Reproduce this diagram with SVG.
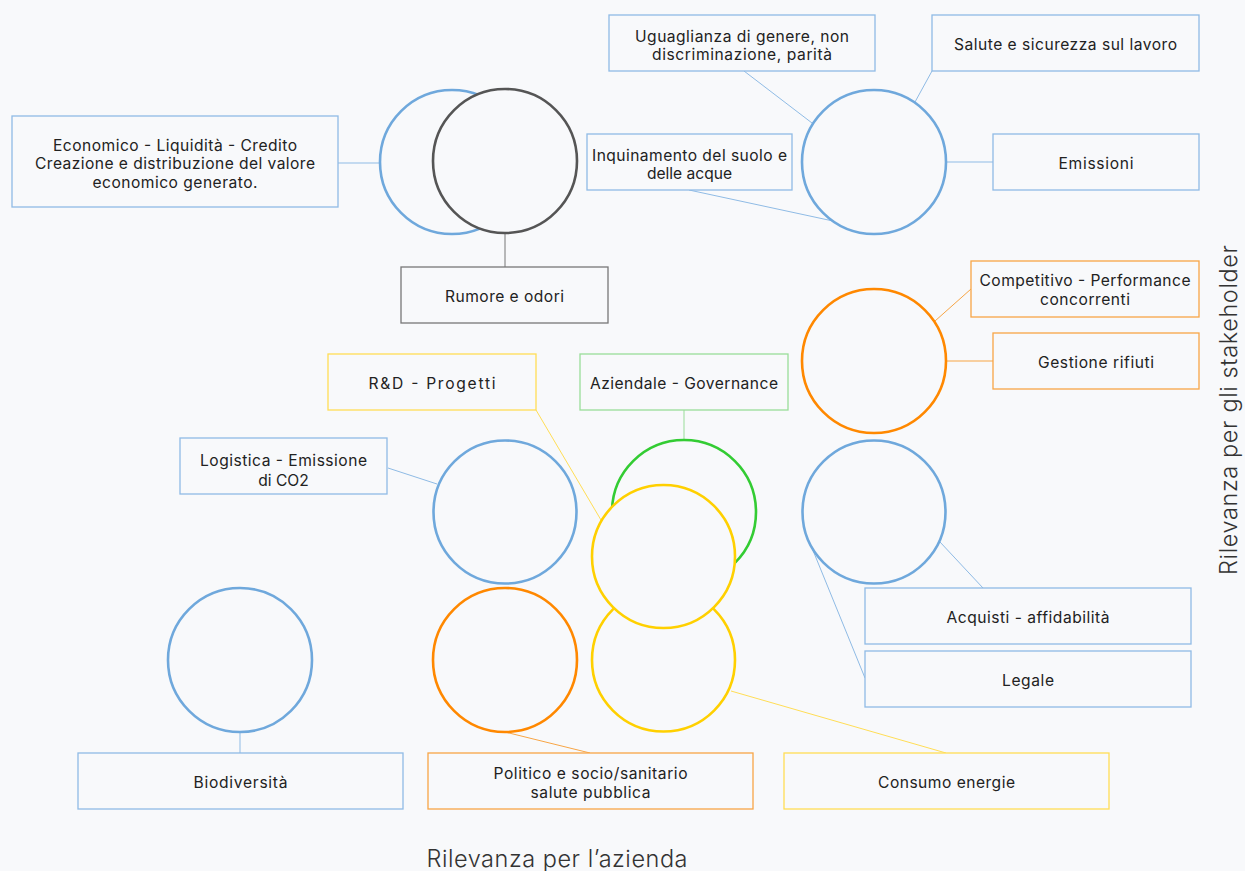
<svg xmlns="http://www.w3.org/2000/svg" width="1245" height="871" viewBox="0 0 1245 871">
<style>
text{font-family:Inter,"Liberation Sans",sans-serif;font-size:15.6px;fill:#222;text-anchor:middle}
.ax{font-size:23.5px;fill:#333;font-weight:300}
rect{fill:#f8f9fb;stroke-width:1.3}
circle{fill:#f8f9fb;stroke-width:2.6}
.bB{stroke:#8fbbe5}.cB{stroke:#6fa8dc}
.bO{stroke:#f7a545}.cO{stroke:#ff8800}
.bY{stroke:#ffdd55}.cY{stroke:#ffd000}
.bG{stroke:#99dd99}.cG{stroke:#33cc33}
.bK{stroke:#777}.cK{stroke:#555}
line{stroke-width:1}
</style>
<rect x="0" y="0" width="1245" height="871" style="fill:#f8f9fb;stroke:none"/>
<g id="connectors">
<line x1="338" y1="163" x2="381" y2="163" class="bB"/>
<line x1="505" y1="233" x2="505" y2="267" class="bK"/>
<line x1="744" y1="71" x2="812" y2="123" class="bB"/>
<line x1="932" y1="71" x2="915" y2="102" class="bB"/>
<line x1="689" y1="190" x2="833" y2="221" class="bB"/>
<line x1="946" y1="162" x2="993" y2="162" class="bB"/>
<line x1="971" y1="289" x2="935" y2="321" class="bO"/>
<line x1="946" y1="361" x2="993" y2="361" class="bO"/>
<line x1="940" y1="542" x2="983" y2="588" class="bB"/>
<line x1="812" y1="548" x2="865" y2="678" class="bB"/>
<line x1="536" y1="410" x2="601" y2="520" class="bY"/>
<line x1="684" y1="410" x2="684" y2="440" class="bG"/>
<line x1="388" y1="468" x2="437" y2="484" class="bB"/>
<line x1="240" y1="732" x2="240" y2="753" class="bB"/>
<line x1="505" y1="732" x2="590" y2="753" class="bO"/>
<line x1="731" y1="691" x2="946" y2="753" class="bY"/>
</g>
<g id="c-eco"><circle cx="452" cy="162" r="72" class="cB"/></g>
<g id="c-rumore"><circle cx="505" cy="161" r="72" class="cK"/></g>
<g id="c-social"><circle cx="874" cy="162" r="72" class="cB"/></g>
<g id="c-competitivo"><circle cx="874" cy="361" r="72" class="cO"/></g>
<g id="c-acquisti"><circle cx="874" cy="512" r="71.5" class="cB"/></g>
<g id="c-logistica"><circle cx="505" cy="512" r="71.5" class="cB"/></g>
<g id="c-governance"><circle cx="684" cy="512" r="72" class="cG"/></g>
<g id="c-energie"><circle cx="663.5" cy="660" r="71.5" class="cY"/></g>
<g id="c-rd"><circle cx="663.5" cy="556.5" r="71.5" class="cY"/></g>
<g id="c-biodiv"><circle cx="240" cy="660" r="72" class="cB"/></g>
<g id="c-politico"><circle cx="505" cy="660" r="72" class="cO"/></g>

<g id="n-economico"><rect x="12" y="116" width="326" height="91" class="bB"/>
<text x="175" y="151" textLength="244">Economico - Liquidità - Credito</text>
<text x="175" y="169" textLength="280">Creazione e distribuzione del valore</text>
<text x="175" y="188" textLength="165">economico generato.</text></g>
<g id="n-rumore"><rect x="401" y="267" width="207" height="56" class="bK"/>
<text x="504.5" y="302" textLength="119">Rumore e odori</text></g>
<g id="n-uguaglianza"><rect x="609" y="15" width="266" height="56" class="bB"/>
<text x="742" y="42" textLength="214">Uguaglianza di genere, non</text>
<text x="742" y="60" textLength="180">discriminazione, parità</text></g>
<g id="n-salute"><rect x="932" y="15" width="267" height="56" class="bB"/>
<text x="1065.5" y="50" textLength="223">Salute e sicurezza sul lavoro</text></g>
<g id="n-inquinamento"><rect x="587" y="134" width="205" height="56" class="bB"/>
<text x="689.5" y="161" textLength="195">Inquinamento del suolo e</text>
<text x="689.5" y="179">delle acque</text></g>
<g id="n-emissioni"><rect x="993" y="134" width="206" height="56" class="bB"/>
<text x="1096" y="169" textLength="75">Emissioni</text></g>
<g id="n-competitivo"><rect x="971" y="261" width="228" height="56" class="bO"/>
<text x="1085" y="286" textLength="211">Competitivo - Performance</text>
<text x="1085" y="305" textLength="90">concorrenti</text></g>
<g id="n-gestione"><rect x="993" y="333" width="206" height="56" class="bO"/>
<text x="1096" y="368" textLength="116">Gestione rifiuti</text></g>
<g id="n-rd"><rect x="328" y="354" width="208" height="56" class="bY"/>
<text x="432" y="389" textLength="127">R&amp;D - Progetti</text></g>
<g id="n-governance"><rect x="580" y="354" width="208" height="56" class="bG"/>
<text x="684" y="389" textLength="188">Aziendale - Governance</text></g>
<g id="n-logistica"><rect x="180" y="438" width="207" height="56" class="bB"/>
<text x="283.5" y="466" textLength="167">Logistica - Emissione</text>
<text x="283.5" y="486">di CO2</text></g>
<g id="n-acquisti"><rect x="865" y="588" width="326" height="56" class="bB"/>
<text x="1028" y="623" textLength="163">Acquisti - affidabilità</text></g>
<g id="n-legale"><rect x="865" y="651" width="326" height="56" class="bB"/>
<text x="1028" y="686" textLength="52">Legale</text></g>
<g id="n-biodiv"><rect x="78" y="753" width="325" height="56" class="bB"/>
<text x="240.5" y="788" textLength="94">Biodiversità</text></g>
<g id="n-politico"><rect x="428" y="753" width="325" height="56" class="bO"/>
<text x="590.5" y="779" textLength="194">Politico e socio/sanitario</text>
<text x="590.5" y="798" textLength="120">salute pubblica</text></g>
<g id="n-consumo"><rect x="784" y="753" width="325" height="56" class="bY"/>
<text x="946.5" y="788" textLength="137">Consumo energie</text></g>

<text class="ax" x="557" y="867" textLength="261">Rilevanza per l’azienda</text>
<text class="ax" x="0" y="0" transform="translate(1237,410) rotate(-90)" textLength="330">Rilevanza per gli stakeholder</text>
</svg>
